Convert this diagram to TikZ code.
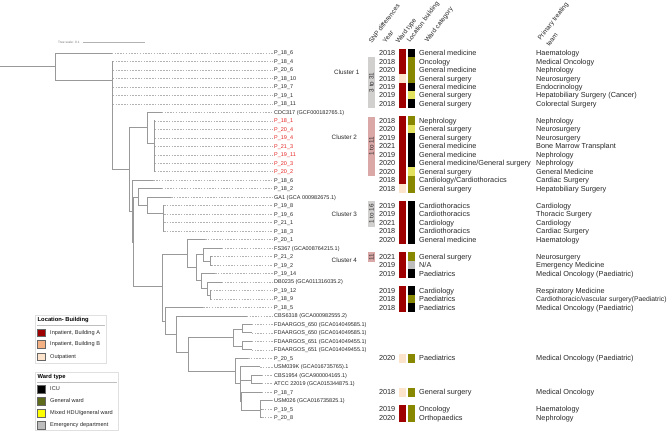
\documentclass[tikz,border=0pt]{standalone}
\usepackage{fontspec}
\setmainfont{Liberation Sans}
\usepackage{xcolor}
\usetikzlibrary{positioning}

\definecolor{bldA}{HTML}{9E0000}
\definecolor{bldB}{HTML}{F4B183}
\definecolor{outpt}{HTML}{FCE3CC}
\definecolor{wgen}{HTML}{878700}
\definecolor{whdu}{HTML}{E2E25E}
\definecolor{wemg}{HTML}{BDBDBD}
\definecolor{keygen}{HTML}{5E6B1A}
\definecolor{keyhdu}{HTML}{FFFF00}
\definecolor{snpgrey}{HTML}{D2CFCF}
\definecolor{snppink}{HTML}{DBA8A8}
\definecolor{leafred}{HTML}{E52222}

\tikzset{
  branch/.style={draw=black!40, line width=0.75pt},
  leader/.style={draw=black!30, line width=0.45pt, dash pattern=on 1.5pt off 1.3pt},
  leaf/.style={font=\fontsize{5.5}{6}\selectfont, anchor=base west, inner sep=0pt},
  meta/.style={font=\fontsize{7.3}{8}\selectfont, inner sep=0pt, text=black!85},
  hdr/.style={font=\fontsize{6.5}{7}\selectfont, rotate=53, anchor=south west,
              inner sep=0pt, text=black!85},
  clus/.style={font=\fontsize{6.3}{7}\selectfont, anchor=west, inner sep=0pt, text=black!85},
  snp/.style={font=\fontsize{6.3}{7}\selectfont, rotate=90, inner sep=0pt, text=black!85},
  legbox/.style={draw=black!12, line width=0.5pt},
  legtitle/.style={font=\bfseries\fontsize{5.8}{6}\selectfont, anchor=west, inner sep=0pt},
  legitem/.style={font=\fontsize{5.6}{6}\selectfont, anchor=west, inner sep=0pt, text=black!85},
  keysq/.style={draw=black!60, line width=0.4pt},
}

\begin{document}
\begin{tikzpicture}[x=1pt, y=-1pt]
\useasboundingbox (0,0) rectangle (669,433);

%% Leaves: tips, leaders and labels
\foreach \i/\lbl/\tip/\col in {
  1/P\_18\_6/111.7/black!85, 2/P\_18\_4/112.8/black!85, 3/P\_20\_6/112.8/black!85,
  4/P\_18\_10/112.8/black!85, 5/P\_19\_7/112.8/black!85, 6/P\_19\_1/112.8/black!85,
  7/P\_18\_11/112.8/black!85, 8/CDC317 (GCF000182765.1)/161.7/black!85,
  9/P\_18\_1/154.8/leafred, 10/P\_20\_4/154.8/leafred, 11/P\_19\_4/154.8/leafred,
  12/P\_21\_3/154.8/leafred, 13/P\_19\_11/154.8/leafred, 14/P\_20\_3/154.8/leafred,
  15/P\_20\_2/154.8/leafred, 16/P\_18\_6/153.3/black!85, 17/P\_18\_2/161.7/black!85,
  18/GA1 (GCA 000982675.1)/171/black!85, 19/P\_19\_8/164/black!85,
  20/P\_19\_6/164/black!85, 21/P\_21\_1/164/black!85, 22/P\_18\_3/164/black!85,
  23/P\_20\_1/205/black!85, 24/FS367 (GCA008764215.1)/221.7/black!85,
  25/P\_21\_2/211.5/black!85, 26/P\_19\_2/211.5/black!85, 27/P\_19\_14/215/black!85,
  28/DB0235 (GCA011316035.2)/221.7/black!85, 29/P\_19\_12/210.7/black!85,
  30/P\_18\_9/210.7/black!85, 31/P\_18\_5/203.3/black!85,
  32/CBS6318 (GCA000982555.2)/246.7/black!85,
  33/FDAARGOS\_650 (GCA014049585.1)/251.7/black!85,
  34/FDAARGOS\_650 (GCA014049585.1)/251.7/black!85,
  35/FDAARGOS\_651 (GCA014049455.1)/251.7/black!85,
  36/FDAARGOS\_651 (GCA014049455.1)/251.7/black!85,
  37/P\_20\_5/248/black!85, 38/USM039K (GCA016735765).1/260/black!85,
  39/CBS1954 (GCA900004165.1)/261.7/black!85,
  40/ATCC 22019 (GCA015344875.1)/261.7/black!85, 41/P\_18\_7/261.7/black!85,
  42/USM026 (GCA016735825.1)/272/black!85, 43/P\_19\_5/262/black!85,
  44/P\_20\_8/262/black!85} {
  \pgfmathsetmacro\yy{53+(\i-1)*8.48}
  \coordinate (t\i) at (\tip,\yy);
  \node[leaf, text=\col] (l\i) at (274,{\yy+2}) {\lbl};
  \draw[leader, shorten >=1.2pt] (t\i) -- (l\i.west |- t\i);
}

%% Internal nodes (x, attach height)
\coordinate (root) at (0,66);
\coordinate (r) at (55.7,66);
\coordinate (n1) at (112.3,80);
\coordinate (n2) at (129.3,169.3);
\coordinate (n3) at (147.3,127.7);
\coordinate (n3b) at (154.3,143.3);
\coordinate (n4) at (132.3,211.7);
\coordinate (n5) at (133.3,242);
\coordinate (n6) at (138.3,197.3);
\coordinate (n7) at (162.3,286.7);
\coordinate (n8) at (147.7,205);
\coordinate (n9) at (163.3,213.3);
\coordinate (n10) at (187.7,254);
\coordinate (n11) at (165,320.9);
\coordinate (n13) at (196.7,267.7);
\coordinate (n14) at (203.3,254.3);
\coordinate (n15) at (210.7,261.3);
\coordinate (n16) at (201,280.7);
\coordinate (n17) at (207.3,288.3);
\coordinate (n18) at (210,295.2);
\coordinate (n12) at (176.7,334);
\coordinate (nA) at (188.3,352);
\coordinate (nF) at (233.3,337);
\coordinate (nF1) at (242.7,329.2);
\coordinate (nF2) at (242.7,346.2);
\coordinate (nB) at (235,371);
\coordinate (nC) at (240,383);
\coordinate (nD) at (251,380.2);
\coordinate (nE) at (241.7,401);
\coordinate (nG) at (260,410);

%% Branches
\foreach \p/\c in {root/r, r/t1, r/n1, n1/t2, n1/t3, n1/t4, n1/t5, n1/t6, n1/t7,
  n1/n2, n2/n3, n2/n4, n3/t8, n3/n3b, n3b/t9, n3b/t10, n3b/t11, n3b/t12, n3b/t13,
  n3b/t14, n3b/t15, n4/t16, n4/n5, n5/n6, n5/n7, n6/t17, n6/n8, n8/t18, n8/n9,
  n9/t19, n9/t20, n9/t21, n9/t22, n7/n10, n7/n11, n10/t23, n10/n13, n13/n14,
  n13/n16, n14/t24, n14/n15, n15/t25, n15/t26, n16/t27, n16/n17, n17/t28,
  n17/n18, n18/t29, n18/t30, n11/t31, n11/n12, n12/t32, n12/nA, nA/nF, nA/nB,
  nF/nF1, nF/nF2, nF1/t33, nF1/t34, nF2/t35, nF2/t36, nB/t37, nB/nC, nC/t38,
  nC/nD, nC/nE, nD/t39, nD/t40, nE/t41, nE/nG, nG/t42, nG/t43, nG/t44} {
  \draw[branch] (\p) |- (\c);
}

%% Tree scale
\node[font=\fontsize{3.2}{3.5}\selectfont, text=black!55, anchor=west, inner sep=0pt]
  (scaleT) at (58,42) {Tree scale: 0.1};
\draw[black!30, line width=0.6pt] (83,42) -- (145,42);

%% Clusters and SNP bars
\node[clus] (c1) at (334,72.7) {Cluster 1};
\node[clus] (c2) at (331.5,137.7) {Cluster 2};
\node[clus] (c3) at (331.5,214) {Cluster 3};
\node[clus] (c4) at (331.5,260.7) {Cluster 4};
\fill[snpgrey] (368,57) rectangle (375,108);
\fill[snppink] (368,117) rectangle (375,175.5);
\fill[snpgrey] (368,201) rectangle (375,227);
\fill[snppink] (368,251.7) rectangle (375,262.3);
\node[snp] (s1) at (371.5,82.5) {3 to 31};
\node[snp] (s2) at (371.5,146.3) {1 to 11};
\node[snp] (s3) at (371.5,214) {1 to 16};
\node[snp] (s4) at (371.5,257) {11};

%% Column headers
\node[hdr] (hSnp) at (372,44) {SNP differences};
\node[hdr] (hYear) at (386,44) {Year};
\node[hdr] (hWard) at (400,45) {Ward type};
\node[hdr] (hLoc) at (411,44) {Location building};
\node[hdr] (hCat) at (429,44) {Ward category};
\node[hdr] (hTeam) at (542,42) {Primary treating};
\node[hdr] (hTeam2) at (549.5,47) {team};

%% Metadata rows
\foreach \r/\yr/\loc/\wt/\cat/\team in {
  1/2018/bldA/black/General medicine/Haematology,
  2/2018/bldA/wgen/Oncology/Medical Oncology,
  3/2020/bldA/wgen/General medicine/Nephrology,
  4/2018/outpt/wgen/General surgery/Neurosurgery,
  5/2019/bldA/black/General medicine/Endocrinology,
  6/2019/bldA/whdu/General surgery/Hepatobiliary Surgery (Cancer),
  7/2018/bldA/black/General surgery/Colorectal Surgery,
  9/2018/bldA/wgen/Nephrology/Nephrology,
  10/2020/bldA/whdu/General surgery/Neurosurgery,
  11/2019/bldA/black/General surgery/Neurosurgery,
  12/2021/bldA/black/General medicine/Bone Marrow Transplant,
  13/2019/bldA/black/General medicine/Nephrology,
  14/2020/bldA/black/{General medicine/General surgery}/Nephrology,
  15/2020/bldA/whdu/General surgery/General Medicine,
  16/2018/bldA/wgen/{Cardiology/Cardiothoracics}/Cardiac Surgery,
  17/2018/outpt/wgen/General surgery/Hepatobiliary Surgery,
  19/2019/bldA/black/Cardiothoracics/Cardiology,
  20/2019/bldA/black/Cardiothoracics/Thoracic Surgery,
  21/2021/bldA/black/Cardiology/Cardiology,
  22/2018/bldA/black/Cardiothoracics/Cardiac Surgery,
  23/2020/bldA/black/General medicine/Haematology,
  25/2021/bldA/wgen/General surgery/Neurosurgery,
  26/2019/bldA/wemg/{N/A}/Emergency Medicine,
  27/2019/bldA/black/Paediatrics/Medical Oncology (Paediatric),
  29/2019/bldA/black/Cardiology/Respiratory Medicine,
  30/2018/bldA/wgen/Paediatrics/{{\fontsize{6.8}{8}\selectfont Cardiothoracic/vascular surgery(Paediatric)}},
  31/2018/bldA/black/Paediatrics/Medical Oncology (Paediatric),
  37/2020/outpt/wgen/Paediatrics/Medical Oncology (Paediatric),
  41/2018/outpt/wgen/General surgery/Medical Oncology,
  43/2019/bldA/wgen/Oncology/Haematology,
  44/2020/bldA/wgen/Orthopaedics/Nephrology} {
  \pgfmathsetmacro\yy{53+(\r-1)*8.48}
  \fill[\loc] (398.7,{\yy-4.4}) rectangle (405.7,{\yy+4.4});
  \fill[\wt] (408.2,{\yy-4.4}) rectangle (414.5,{\yy+4.4});
  \node[meta, anchor=base east] (yr\r) at (395.5,{\yy+2.6}) {\yr};
  \node[meta, anchor=base west] (cat\r) at (419,{\yy+2.6}) {\cat};
  \node[meta, anchor=base west] (team\r) at (536,{\yy+2.6}) {\team};
}

%% Legend: location
\draw[legbox] (35,315) rectangle (106,363);
\node[legtitle] (locT) at (37.5,320) {Location- Building};
\draw[black!25, line width=0.4pt] (37,325.3) -- (104.5,325.3);
\foreach \y/\c/\t [count=\k] in {332.7/bldA/{Inpatient, Building A},
    344.3/bldB/{Inpatient, Building B}, 356.7/outpt/Outpatient} {
  \draw[keysq, fill=\c] (37.5,{\y-3.8}) rectangle (45.2,{\y+3.8});
  \node[legitem] (loc\k) at (50,\y) {\t};
}

%% Legend: ward type
\draw[legbox] (35,372) rectangle (118,430);
\node[legtitle] (wardT) at (37.5,377) {Ward type};
\draw[black!25, line width=0.4pt] (37,382.3) -- (116.5,382.3);
\foreach \y/\c/\t [count=\k] in {389/black/ICU, 400.9/keygen/General ward,
    413.1/keyhdu/{Mixed HDU/general ward}, 425.3/wemg/Emergency department} {
  \draw[keysq, fill=\c] (37.5,{\y-3.8}) rectangle (45.2,{\y+3.8});
  \node[legitem] (ward\k) at (50,\y) {\t};
}
\end{tikzpicture}
\end{document}
